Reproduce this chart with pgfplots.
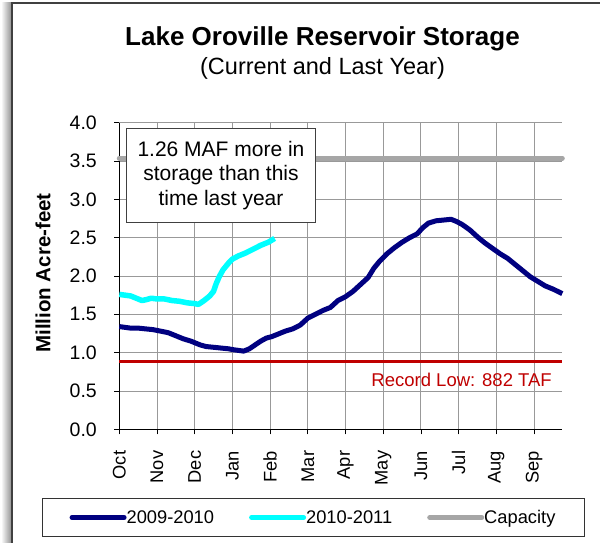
\documentclass[border=0pt]{standalone}
\usepackage{pgfplots}
\pgfplotsset{compat=1.18}
\usepackage{fontspec}
\setmainfont{Liberation Sans}
\definecolor{navyline}{HTML}{000080}
\definecolor{cyanline}{HTML}{00FFFF}
\definecolor{capgray}{HTML}{A6A6A6}
\definecolor{recordred}{HTML}{C00000}
\begin{document}
\begin{tikzpicture}[x=1pt,y=1pt]
\useasboundingbox (0,0) rectangle (600,543);
\fill[white] (0,0) rectangle (600,543);
\shade[left color=white, right color=black!45] (1,0) rectangle (12,540);
\draw[black!75, line width=1.6pt] (12,-2) -- (12,540) -- (602,540);
\node[font=\bfseries\fontsize{26}{30}\selectfont] at (322.5,504) {Lake Oroville Reservoir Storage};
\node[font=\fontsize{23.5}{27}\selectfont] at (322.5,475) {(Current and Last Year)};
\begin{axis}[
  at={(119.3pt,113.7pt)}, anchor=south west,
  scale only axis, width=443pt, height=306.6pt,
  xmin=0, xmax=11.75, ymin=0, ymax=4,
  axis x line*=bottom, axis y line*=left,
  axis line style={black, line width=1pt},
  xtick={0,1,2,3,4,5,6,7,8,9,10,11},
  xticklabels={Oct,Nov,Dec,Jan,Feb,Mar,Apr,May,Jun,Jul,Aug,Sep},
  ytick={0,0.5,1,1.5,2,2.5,3,3.5,4},
  tick align=outside, major tick length=5pt,
  tick style={black, line width=0.8pt},
  grid=major, grid style={black!40, line width=0.9pt},
  /pgf/number format/assume math mode=true,
  yticklabel style={font=\fontsize{19.5}{21}\selectfont, xshift=-14pt, /pgf/number format/fixed, /pgf/number format/fixed zerofill, /pgf/number format/precision=1},
  xticklabel style={font=\fontsize{18.3}{20}\selectfont, rotate=90, anchor=east, xshift=-13pt},
  ylabel={Million Acre-feet},
  ylabel style={at={(axis description cs:-0.172,0.51)}, anchor=center, font=\bfseries\fontsize{20.5}{22}\selectfont},
  legend columns=3,
  legend style={at={(axis description cs:0.4384,-0.2877)}, anchor=center, draw=black!80, line width=1pt,
    font=\fontsize{18.3}{20}\selectfont, inner xsep=27.5pt, inner ysep=9.5pt,
    /tikz/every odd column/.append style={column sep=-2pt},
    /tikz/every even column/.append style={column sep=33pt}},
  legend cell align=left,
  legend image code/.code={\draw[#1, line width=5pt, line cap=round] (0pt,0pt) -- (52pt,0pt);},
  clip=false,
]
\addplot[navyline, line width=5pt, line join=round] coordinates {
(0.00,1.34) (0.15,1.33) (0.30,1.32) (0.50,1.32) (0.70,1.31) (0.90,1.30)
(1.10,1.28) (1.30,1.26) (1.50,1.22) (1.70,1.18) (1.90,1.15) (2.00,1.13)
(2.15,1.10) (2.30,1.08) (2.50,1.07) (2.70,1.06) (2.90,1.05) (3.00,1.04)
(3.15,1.03) (3.30,1.02) (3.45,1.05) (3.60,1.10) (3.75,1.15) (3.90,1.19)
(4.05,1.21) (4.20,1.24) (4.40,1.28) (4.60,1.31) (4.80,1.36) (5.00,1.45)
(5.20,1.50) (5.40,1.55) (5.60,1.59) (5.80,1.68) (6.00,1.73) (6.20,1.80)
(6.40,1.89) (6.60,1.98) (6.75,2.10) (6.90,2.19) (7.10,2.29) (7.30,2.37)
(7.50,2.44) (7.70,2.50) (7.90,2.55) (8.05,2.63) (8.20,2.69) (8.40,2.72)
(8.60,2.73) (8.80,2.74) (8.95,2.71) (9.10,2.67) (9.30,2.60) (9.50,2.51)
(9.70,2.43) (9.90,2.36) (10.10,2.29) (10.30,2.23) (10.50,2.15) (10.70,2.07)
(10.90,1.99) (11.10,1.93) (11.30,1.87) (11.50,1.83) (11.75,1.77)
};
\addlegendentry{2009-2010}
\addplot[cyanline, line width=5.5pt, line join=round] coordinates {
(0.00,1.76) (0.15,1.75) (0.30,1.74) (0.45,1.71) (0.60,1.68) (0.70,1.69)
(0.85,1.71) (1.00,1.70) (1.20,1.70) (1.40,1.68) (1.60,1.67) (1.80,1.65)
(2.00,1.64) (2.10,1.63) (2.25,1.68) (2.40,1.74) (2.50,1.80) (2.57,1.90)
(2.65,1.99) (2.75,2.08) (2.90,2.17) (3.00,2.22) (3.15,2.26) (3.35,2.30)
(3.55,2.35) (3.75,2.40) (3.95,2.44) (4.12,2.49)
};
\addlegendentry{2010-2011}
\addplot[capgray, line width=5pt, line cap=round] coordinates {(0,3.537) (11.75,3.537)};
\addlegendentry{Capacity}
\addplot[recordred, line width=3pt, forget plot] coordinates {(0,0.882) (11.75,0.882)};
\node[text=recordred, font=\fontsize{18.5}{20}\selectfont] at (axis cs:9.08,0.64) {Record Low: 882 TAF};
\end{axis}
\node[draw=black!75, fill=white, line width=1pt, align=center, minimum width=188.6pt, minimum height=94pt, inner sep=0pt, font=\fontsize{21}{24.5}\selectfont] at (221,367.7) {1.26 MAF more in\\storage than this\\time last year};
\end{tikzpicture}
\end{document}
